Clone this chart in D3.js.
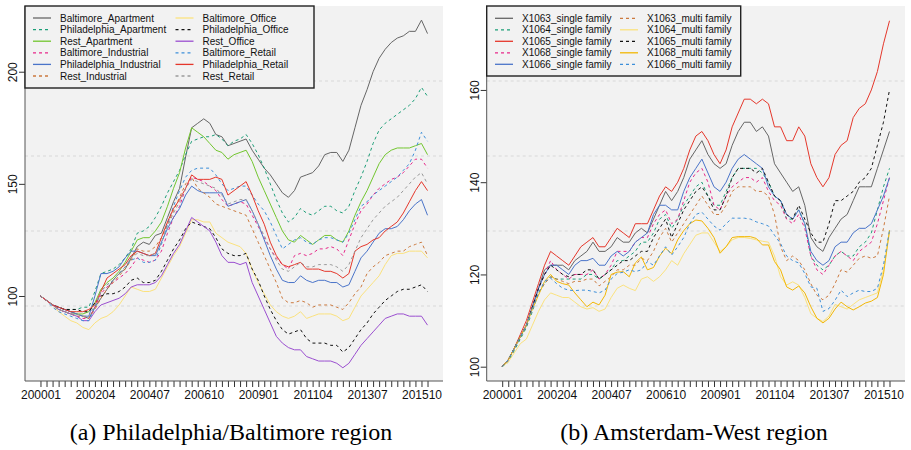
<!DOCTYPE html>
<html><head><meta charset="utf-8">
<script src="https://cdn.jsdelivr.net/npm/d3@7"></script>
<style>html,body{margin:0;padding:0;background:#fff}svg{display:block}</style>
</head><body><div id="chart"></div>
<script>
// ---------- DATA ----------
const quarters = ["200001","200004","200007","200010","200101","200104","200107","200110","200201","200204","200207","200210","200301","200304","200307","200310","200401","200404","200407","200410","200501","200504","200507","200510","200601","200604","200607","200610","200701","200704","200707","200710","200801","200804","200807","200810","200901","200904","200907","200910","201001","201004","201007","201010","201101","201104","201107","201110","201201","201204","201207","201210","201301","201304","201307","201310","201401","201404","201407","201410","201501","201504","201507","201510","201601"];
const labelStep = 9;

// Panel (a): Philadelphia/Baltimore region
const leftNames = ["Baltimore_Apartment","Philadelphia_Apartment","Rest_Apartment","Baltimore_Industrial","Philadelphia_Industrial","Rest_Industrial","Baltimore_Office","Philadelphia_Office","Rest_Office","Baltimore_Retail","Philadelphia_Retail","Rest_Retail"];
const baltimoreApartment = [100,98,96,95,94,93,92,91,90,95,99,103,107,110,112,117,122,124,123,127,128,135,142,148,162,175,177,179,177,172,171,167,168,169,170,165,161,157,154,150,146,144,147,153,154,155,158,163,164,164,160,165,175,185,192,200,206,210,213,215,216,218,218,223,217];
const philadelphiaApartment = [100,98,96,95,94,94,94,95,95,102,110,111,112,114,117,121,128,129,131,135,140,146,151,156,163,169,170,171,171,172,170,167,169,170,172,168,163,157,150,143,137,133,135,139,137,136,138,140,140,138,137,140,147,153,160,168,174,177,179,181,183,185,188,193,189];
const restApartment = [100,98,96,94,93,92,92,92,93,97,103,106,108,111,115,120,125,126,126,129,133,140,148,155,166,175,173,171,168,165,164,161,163,164,165,160,153,147,141,135,129,125,124,127,125,123,125,127,127,125,124,129,136,142,147,153,159,163,165,166,166,166,167,168,163];
const baltimoreIndustrial = [100,98,96,94,93,92,91,90,90,95,101,104,106,108,110,113,117,116,115,116,120,128,135,140,148,153,152,151,149,147,143,140,141,142,141,136,131,126,121,117,114,112,118,119,118,119,121,121,122,121,118,125,132,138,141,145,148,150,152,153,155,158,161,161,157];
const philadelphiaIndustrial = [100,98,96,95,94,93,92,91,91,100,110,110,111,113,117,120,120,119,118,118,124,130,135,139,145,149,147,146,146,146,146,140,141,142,143,138,132,125,118,112,107,106,106,109,107,106,107,107,106,106,104,105,111,117,120,124,128,130,130,131,134,138,141,143,136];
const restIndustrial = [100,98,96,94,93,92,91,91,90,94,99,103,106,109,112,116,121,120,120,122,126,132,138,144,150,153,148,146,144,141,140,139,138,137,136,130,124,118,112,106,99,97,97,98,97,95,96,96,96,95,94,97,101,104,110,113,115,118,119,120,120,122,123,124,118];
const baltimoreOffice = [100,98,96,93,91,89,88,86,85,88,90,91,93,96,100,104,103,102,102,103,108,113,118,122,128,134,134,133,133,128,126,124,123,122,119,112,106,101,96,93,91,90,91,93,90,91,92,92,92,91,89,90,95,100,103,106,109,114,118,119,119,120,120,120,117];
const philadelphiaOffice = [100,98,96,95,94,94,94,93,93,97,100,101,101,102,104,107,108,106,106,107,111,116,121,125,130,133,132,131,130,126,121,119,118,118,119,112,107,100,94,89,85,83,84,85,81,79,79,79,78,78,75,77,81,85,88,92,95,98,100,102,103,103,104,105,102];
const restOffice = [100,98,96,94,93,92,91,89,89,93,96,97,98,99,101,104,105,105,105,106,109,114,119,123,129,135,133,131,129,124,118,115,115,114,115,106,100,94,88,82,79,77,76,76,73,72,71,71,71,70,68,70,74,78,81,84,87,90,91,92,92,91,91,91,87];
const baltimoreRetail = [100,98,95,93,92,91,90,89,89,95,102,105,107,110,113,116,117,115,115,116,123,132,140,147,153,156,157,157,157,154,150,147,148,149,149,145,141,138,133,127,121,123,125,126,124,123,125,126,126,125,124,128,134,140,142,145,147,149,151,153,156,159,165,173,169];
const philadelphiaRetail = [100,98,96,95,94,93,93,93,94,96,102,108,110,112,114,118,120,119,118,119,126,133,139,143,148,154,152,152,152,153,152,145,147,149,151,145,138,132,124,118,114,113,114,115,112,112,112,111,111,110,108,110,120,122,123,125,126,129,131,133,137,142,147,151,147];
const restRetail = [100,98,96,94,93,92,92,91,91,96,102,105,107,110,113,117,119,118,118,119,124,131,137,142,148,152,151,150,149,148,145,141,142,143,143,138,132,127,121,116,112,111,113,115,113,113,114,114,114,113,111,114,120,126,130,134,137,140,142,144,147,150,153,155,150];
const leftValues = [baltimoreApartment,philadelphiaApartment,restApartment,baltimoreIndustrial,philadelphiaIndustrial,restIndustrial,baltimoreOffice,philadelphiaOffice,restOffice,baltimoreRetail,philadelphiaRetail,restRetail];
const leftTicks = [100,150,200];

// Panel (b): Amsterdam-West region
const rightNames = ["X1063_single family","X1064_single family","X1065_single family","X1068_single family","X1066_single family","X1063_multi family","X1064_multi family","X1065_multi family","X1068_multi family","X1066_multi family"];
const x1063Single = [100,101.5,104,106.5,109,113,117,121,122,122,122,121,123,124,125,127,125,125,126,128,127,127,129,130,129,132,135,138,136,138,141,145,147,149,146,144,143,144,148,151,153,153,151,152,150,144,142,140,138,139,135,128,126,125,128,130,132,133,136,139,139,139,143,147,151];
const x1064Single = [100,101,103.5,106,108.5,112,116,118,119.5,119,119,119,119,119,120,120,119,120,121,123,123,124,125,127,127,129,132,133,130,132,135,137,139,140,137,135,135,138,141,143,143,143,143,142,140,137,136,132,132,134,131,124,122,121,122,124,125,124,124,126,127,129,134,139,143];
const x1065Single = [100,101.5,104,107,110,114,118,122,125,124,123,122,124,126,127,128,126,126,128,130,129,128,131,131,131,134,137,139,138,140,143,147,150,151,149,146,144,147,152,155,158,158,157,158,157,152,152,149,149,152,150,144,141,139,141,146,148,149,154,156,157,160,164,170,175];
const x1068Single = [100,101.5,104,106.5,109,113,117,120,123,121,120,119,120,120,120,121,119,120,122,125,125,125,127,128,128,131,133,134,131,132,136,140,142,143,140,135,134,137,139,140,141,141,140,141,138,136,135,132,131,133,130,124,121,120,122,124,125,124,123,125,126,127,131,136,141];
const x1066Single = [100,101.5,104,106.5,109,113,117,120,122,122,121,120,122,123,123,123.5,122,122,124,125,124,125,127,128,129,133,135,135,134,134,138,141,143,145,142,139,138,140,143,145,146,145,144,143,139,137,136,133,132,134,131,125,123,122,123,126,127,127,129,130,130,131,134,137,141];
const x1063Multi = [100,101.5,104,106.5,109,112.5,116,118,119.5,119,118.5,118,118.5,118.5,119,119,117.5,118.5,119.5,121,121,122,122,123.5,123,125,128,130,127,129,131,133,135,137,135,133,133,135,138,139,139,139,138,138,137,133,126,123,124,123,121,118,115.5,114.5,115.5,118,121,120.5,122,123.5,124,123.5,124,130,137];
const x1064Multi = [100,101,103,105,106,109,112,114.5,116,115.5,115,115,114,113,112.5,112.8,112,112.5,115,117,117.7,117,116.5,119,119.5,118.5,119.5,121,123,122,124.5,126.5,128.5,129,129,127,125,126,127.5,128,128,127.8,127.5,127.2,127,124,119.5,117.7,118.4,117.7,115,111.5,110.5,109.8,111,113.5,113,112.5,113.5,114.5,115,115.5,116,121,129];
const x1065Multi = [100,101.5,104,106.5,109,113,117,120,122,121,120,119.5,120,120,121,121,119,120,121,122,123,123,124,125,125,128,130,132,128,131,134,136,138,139,137,134,134,137,141,143,143,143,142,143,140,137,136,133,132,135,132,129,127,127,131,136,136,137,138,140,141,143,148,153,160];
const x1068Multi = [100,101.5,104,106.5,109,112.5,115.5,118.5,120,118.5,118,117.7,116,114.5,113,114,113.4,115.5,120,120.5,120.6,119.5,122.5,123.8,121,121.5,124,125.7,124.5,127.5,129.5,131,131.8,131.6,130,128,124.6,126,128,128.2,128.2,128.2,127.8,126.4,126.4,122.8,121,117.3,116.6,117.5,116,113,110.5,109.5,110.5,112.5,114,113,112.3,113,113.8,114.2,115,120,129.6];
const x1066Multi = [100,101.5,104,106.5,109,112.5,116,118.5,119.2,118,117,116.6,116.5,116.6,116.6,116.3,116,116.6,119,120.2,120.5,121,120.6,121,122.8,122,124,126,124.2,126,128,131,133,133.5,132,130.5,129.6,131,132.2,132.2,132.2,132,131.4,131,130.5,128.5,126.7,124,123,122.5,120.2,117.3,117,112,112.6,114.4,116.6,115.2,116,116.6,116.3,116.3,117,122,129.6];
const rightValues = [x1063Single,x1064Single,x1065Single,x1068Single,x1066Single,x1063Multi,x1064Multi,x1065Multi,x1068Multi,x1066Multi];
const rightTicks = [100,120,140,160];

const titles = ["(a) Philadelphia/Baltimore region","(b) Amsterdam-West region"];

// ---------- STYLES ----------
const leftStyles = [
  {c:"#666666",d:null},{c:"#1b9e77",d:"3,3"},{c:"#72c62f",d:null},
  {c:"#e7298a",d:"3,3"},{c:"#4a74c9",d:null},{c:"#cc7a3f",d:"3,3"},
  {c:"#fbe27e",d:null},{c:"#111111",d:"3,3"},{c:"#9b4fd0",d:null},
  {c:"#3d8fd9",d:"3,3"},{c:"#e5372b",d:null},{c:"#9a9a9a",d:"3,3"}];
const rightStyles = [
  {c:"#666666",d:null},{c:"#1b9e77",d:"3,3"},{c:"#e5372b",d:null},
  {c:"#e7298a",d:"3,3"},{c:"#4a74c9",d:null},{c:"#cc7a3f",d:"3,3"},
  {c:"#fbe27e",d:null},{c:"#111111",d:"3,3"},{c:"#f2b705",d:null},
  {c:"#3d8fd9",d:"3,3"}];

const W = 911, H = 450;
const svg = d3.select("#chart").append("svg").attr("width",W).attr("height",H)
  .style("font-family","'Liberation Sans',Arial,sans-serif");
svg.append("rect").attr("width",W).attr("height",H).attr("fill","#fff");

function panel(cfg){
  const {x0,x1,y0,y1,yDomain,names,values,styles,ticks,title,legend} = cfg;
  const n = quarters.length;
  const pad = (n-1)*0.04;
  const x = d3.scaleLinear().domain([-pad, n-1+pad]).range([x0,x1]);
  const y = d3.scaleLinear().domain(yDomain).range([y1,y0]);
  const g = svg.append("g");
  g.append("rect").attr("x",x0).attr("y",y0).attr("width",x1-x0).attr("height",y1-y0).attr("fill","#f2f2f2");
  // grid at fifths of the panel
  for(let k=1;k<=4;k++){
    const gy = y0 + k*(y1-y0)/5;
    g.append("line").attr("x1",x0).attr("x2",x1).attr("y1",gy).attr("y2",gy)
      .attr("stroke","#d8d8d8").attr("stroke-width",1).attr("stroke-dasharray","3,3");
  }
  const line = d3.line().x((d,i)=>x(i)).y(d=>y(d));
  values.forEach((vals,k)=>{
    g.append("path").datum(vals).attr("d",line).attr("fill","none")
      .attr("stroke",styles[k].c).attr("stroke-width",1)
      .attr("stroke-dasharray",styles[k].d);
  });
  // axes
  const xa = g.append("g").attr("transform",`translate(0,${y1})`)
    .call(d3.axisBottom(x).tickValues(d3.range(n)).tickSize(6).tickPadding(3)
      .tickFormat(i=> i%labelStep===0 ? quarters[i] : ""));
  xa.select(".domain").remove();
  xa.selectAll("line").attr("stroke","#333");
  xa.selectAll("text").attr("font-size",12).attr("fill","#111").attr("font-family","'Liberation Sans',Arial,sans-serif");
  const ya = g.append("g").attr("transform",`translate(${x0},0)`)
    .call(d3.axisLeft(y).tickValues(ticks).tickSize(6).tickFormat(d3.format("d")));
  ya.select(".domain").remove();
  ya.selectAll("line").attr("stroke","#333");
  ya.selectAll("text").attr("font-size",12).attr("fill","#111")
    .attr("font-family","'Liberation Sans',Arial,sans-serif")
    .attr("x",null).attr("dy",null)
    .attr("text-anchor","middle")
    .attr("transform","translate(-8,0) rotate(-90)");
  g.append("line").attr("x1",x0).attr("x2",x0).attr("y1",y0).attr("y2",y1).attr("stroke","#555");
  g.append("line").attr("x1",x0).attr("x2",x1).attr("y1",y1).attr("y2",y1).attr("stroke","#555");
  // legend
  const L = legend;
  g.append("rect").attr("x",x0).attr("y",y0).attr("width",L.w).attr("height",L.h)
    .attr("fill","#f2f2f2").attr("stroke","#222").attr("stroke-width",1.4);
  names.forEach((nm,k)=>{
    const col = Math.floor(k/L.rows), row = k%L.rows;
    const ly = y0 + L.top + row*L.step;
    const lx = x0 + L.colX[col];
    g.append("line").attr("x1",lx).attr("x2",lx+18).attr("y1",ly).attr("y2",ly)
      .attr("stroke",styles[k].c).attr("stroke-width",1.3).attr("stroke-dasharray",styles[k].d);
    g.append("text").attr("x",lx+27).attr("y",ly).attr("dy","0.35em")
      .attr("font-size",10).attr("fill","#111").text(nm);
  });
  svg.append("text").attr("x",cfg.titleX).attr("y",440).attr("text-anchor","middle")
    .attr("font-family","'Liberation Serif','Times New Roman',serif").attr("font-size",24)
    .attr("fill","#000").text(title);
}

panel({x0:25,x1:443,y0:6,y1:381,yDomain:[62.1,229.3],names:leftNames,values:leftValues,styles:leftStyles,
  ticks:leftTicks,title:titles[0],titleX:231,
  legend:{w:289,h:82,rows:6,top:12,step:11.6,colX:[8,150.5]}});
panel({x0:486.7,x1:905,y0:6,y1:381,yDomain:[96.9,178.2],names:rightNames,values:rightValues,styles:rightStyles,
  ticks:rightTicks,title:titles[1],titleX:694,
  legend:{w:254,h:70,rows:5,top:12.3,step:11.5,colX:[8.3,133.3]}});
</script></body></html>
